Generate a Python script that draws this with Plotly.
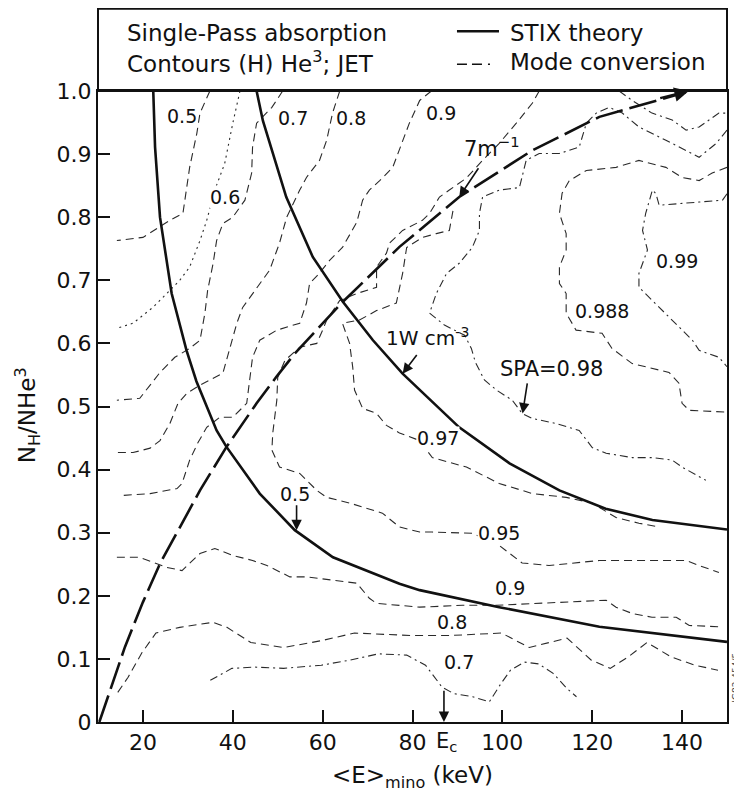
import plotly.graph_objects as go

# ---------------- data ----------------
x_tickvals = [20, 40, 60, 80, 100, 120, 140]
x_ticktext = ["20", "40", "60", "80", "100", "120", "140"]
y_tickvals = [0, 0.1, 0.2, 0.3, 0.4, 0.5, 0.6, 0.7, 0.8, 0.9, 1.0]
y_ticktext = ["0", "0.1", "0.2", "0.3", "0.4", "0.5", "0.6", "0.7", "0.8", "0.9", "1.0"]

# STIX theory (solid)
stix_low_x = [22.3, 22.7, 23.8, 26.4, 29.7, 31.9, 36.4, 38.6, 46.0, 53.8, 62.3, 77.1, 81.6, 99.3, 121.6, 150.0]
stix_low_y = [1.0, 0.911, 0.80, 0.679, 0.589, 0.54, 0.462, 0.436, 0.362, 0.304, 0.261, 0.219, 0.209, 0.182, 0.151, 0.127]
stix_high_x = [45.3, 46.7, 51.9, 57.8, 64.5, 71.2, 77.8, 90.4, 101.6, 112.7, 123.0, 133.4, 150.0]
stix_high_y = [1.0, 0.953, 0.832, 0.737, 0.666, 0.605, 0.552, 0.467, 0.41, 0.367, 0.338, 0.32, 0.305]

# Mode conversion (long dashes)
mode_x = [10.3, 11.9, 16.0, 20.0, 23.8, 32.7, 38.6, 45.3, 49.7, 53.8, 64.5, 77.1, 90.4, 106.7, 121.6, 140.8]
mode_y = [0.0, 0.034, 0.119, 0.19, 0.251, 0.367, 0.436, 0.505, 0.547, 0.584, 0.666, 0.753, 0.832, 0.906, 0.959, 0.998]

# Single-pass absorption contours
c050_x = [34.9, 32.7, 32.0, 30.4, 28.9, 26.0, 20.0, 14.2]
c050_y = [1.0, 0.965, 0.933, 0.879, 0.806, 0.795, 0.768, 0.763]

c060_x = [41.6, 40.0, 38.2, 36.0, 34.2, 32.7, 30.4, 28.2, 25.3, 22.2, 17.8, 14.2]
c060_y = [1.0, 0.949, 0.885, 0.843, 0.795, 0.763, 0.721, 0.700, 0.679, 0.657, 0.632, 0.624]

c070_x = [51.1, 48.7, 45.3, 44.4, 44.2, 42.7, 40.0, 37.8, 36.4, 35.6, 34.4, 33.8, 32.7, 30.4, 27.1, 23.8, 21.6, 19.3, 14.2]
c070_y = [1.0, 0.974, 0.949, 0.911, 0.870, 0.827, 0.800, 0.790, 0.763, 0.726, 0.684, 0.648, 0.605, 0.592, 0.578, 0.554, 0.534, 0.513, 0.510]

c080_x = [63.8, 62.2, 60.9, 59.3, 56.4, 54.9, 52.0, 50.4, 48.2, 46.0, 42.2, 40.9, 39.3, 37.8, 34.9, 32.7, 29.8, 27.8, 26.0, 23.8, 21.6, 17.8, 14.2]
c080_y = [1.0, 0.965, 0.922, 0.890, 0.863, 0.843, 0.800, 0.759, 0.716, 0.695, 0.657, 0.632, 0.589, 0.553, 0.542, 0.534, 0.521, 0.505, 0.473, 0.446, 0.434, 0.427, 0.427]

c090_x = [84.2, 81.6, 79.3, 77.1, 75.6, 72.7, 70.4, 68.9, 67.6, 64.4, 61.6, 58.9, 57.1, 56.4, 54.9, 49.8, 46.0, 44.4, 43.8, 43.1, 40.0, 37.1, 34.2, 32.2, 30.4, 28.7, 27.6, 21.6, 15.3]
c090_y = [1.0, 0.985, 0.949, 0.906, 0.879, 0.858, 0.843, 0.827, 0.792, 0.752, 0.732, 0.708, 0.695, 0.664, 0.632, 0.621, 0.605, 0.578, 0.542, 0.505, 0.483, 0.483, 0.467, 0.442, 0.415, 0.378, 0.370, 0.362, 0.359]

c095_x = [108.2, 106.7, 103.1, 99.3, 95.6, 92.0, 88.2, 86.0, 83.8, 82.2, 77.8, 74.9, 74.2, 72.0, 72.0, 67.6, 63.8, 60.9, 60.0, 58.7, 54.9, 51.6, 50.0, 49.8, 48.9, 48.7, 50.4, 54.9, 58.7, 60.9, 66.0, 73.3, 77.1, 81.6, 84.4, 93.3, 98.7, 104.4, 110.4, 121.6, 128.9, 140.9, 143.8, 148.2]
c095_y = [1.0, 0.981, 0.949, 0.917, 0.890, 0.862, 0.843, 0.832, 0.806, 0.795, 0.779, 0.759, 0.743, 0.721, 0.689, 0.679, 0.668, 0.637, 0.621, 0.600, 0.594, 0.573, 0.546, 0.510, 0.458, 0.431, 0.404, 0.394, 0.367, 0.356, 0.347, 0.331, 0.309, 0.301, 0.301, 0.299, 0.283, 0.252, 0.248, 0.256, 0.256, 0.256, 0.248, 0.237]

c097_x = [89.0, 88.2, 85.3, 82.2, 78.7, 77.8, 76.4, 72.0, 68.2, 64.4, 66.0, 66.7, 67.1, 68.9, 72.0, 74.2, 77.1, 81.6, 84.4, 92.0, 99.3, 106.7, 114.2, 120.0, 125.3, 130.4, 134.9]
c097_y = [0.81, 0.779, 0.774, 0.768, 0.752, 0.711, 0.664, 0.652, 0.637, 0.632, 0.600, 0.562, 0.526, 0.497, 0.489, 0.470, 0.458, 0.446, 0.419, 0.404, 0.378, 0.362, 0.356, 0.347, 0.324, 0.315, 0.309]

c098_x = [150.0, 147.6, 143.8, 140.9, 136.4, 130.4, 126.7, 123.8, 120.9, 118.7, 117.1, 112.7, 108.2, 105.3, 103.8, 99.3, 95.6, 94.9, 94.9, 93.3, 90.4, 87.6, 85.3, 83.8, 87.1, 91.6, 93.1, 94.0, 96.0, 98.7, 102.2, 104.4, 106.7, 112.0, 117.1, 120.0, 123.1, 128.9, 133.3, 137.8, 140.0, 145.3]
c098_y = [0.938, 0.917, 0.895, 0.906, 0.922, 0.943, 0.965, 0.974, 0.965, 0.949, 0.911, 0.901, 0.901, 0.890, 0.847, 0.843, 0.832, 0.806, 0.779, 0.752, 0.727, 0.711, 0.679, 0.648, 0.629, 0.613, 0.592, 0.570, 0.542, 0.526, 0.510, 0.489, 0.481, 0.473, 0.462, 0.435, 0.426, 0.419, 0.419, 0.415, 0.404, 0.383]

c098_corner_x = [126.0, 128.9, 133.3, 137.8, 140.9, 143.8, 148.2, 150.0]
c098_corner_y = [1.0, 0.985, 0.965, 0.954, 0.938, 0.943, 0.965, 0.965]

c0988_x = [150.0, 146.7, 143.8, 140.0, 136.4, 130.4, 125.3, 118.7, 114.9, 113.3, 112.7, 114.2, 114.2, 112.7, 112.7, 114.2, 114.2, 116.4, 122.2, 124.4, 128.9, 132.7, 137.1, 139.3, 140.0, 141.6, 148.2, 150.0]
c0988_y = [0.879, 0.870, 0.858, 0.863, 0.879, 0.890, 0.879, 0.874, 0.858, 0.838, 0.806, 0.774, 0.748, 0.721, 0.695, 0.679, 0.648, 0.621, 0.616, 0.592, 0.568, 0.561, 0.554, 0.537, 0.505, 0.494, 0.491, 0.491]

c099_x = [150.0, 149.0, 143.8, 140.1, 134.9, 134.2, 133.4, 131.9, 131.2, 132.3, 130.4, 130.4, 133.4, 135.6, 139.3, 142.3, 143.8, 148.2, 150.0]
c099_y = [0.837, 0.827, 0.824, 0.822, 0.819, 0.837, 0.843, 0.806, 0.779, 0.748, 0.711, 0.689, 0.668, 0.652, 0.626, 0.605, 0.589, 0.578, 0.563]

c090_low_x = [14.2, 19.3, 25.3, 28.7, 32.7, 36.0, 40.0, 44.4, 47.6, 52.7, 56.4, 62.2, 67.6, 70.4, 72.0, 81.6, 91.1, 98.7, 106.7, 114.2, 123.1, 125.3, 128.9, 133.3, 138.7, 141.6, 148.2]
c090_low_y = [0.261, 0.261, 0.245, 0.240, 0.267, 0.275, 0.264, 0.256, 0.248, 0.230, 0.230, 0.225, 0.220, 0.196, 0.188, 0.182, 0.185, 0.185, 0.188, 0.190, 0.193, 0.182, 0.172, 0.166, 0.166, 0.153, 0.151]

c080_low_x = [14.4, 16.7, 19.8, 22.9, 28.2, 35.6, 38.7, 44.0, 51.3, 59.8, 67.1, 79.8, 88.2, 99.8, 106.0, 114.4, 119.8, 124.0, 128.0, 132.2, 137.6, 142.9, 148.0]
c080_low_y = [0.047, 0.071, 0.11, 0.141, 0.150, 0.158, 0.150, 0.126, 0.118, 0.129, 0.141, 0.137, 0.137, 0.141, 0.118, 0.133, 0.098, 0.085, 0.103, 0.126, 0.103, 0.090, 0.082]

c070_low_x = [35.0, 39.8, 45.0, 51.3, 59.7, 66.0, 72.4, 78.7, 82.9, 85.0, 86.6, 89.2, 93.4, 97.1, 99.7, 101.8, 104.9, 108.1, 111.3, 114.4, 116.5]
c070_low_y = [0.066, 0.085, 0.087, 0.085, 0.090, 0.098, 0.108, 0.106, 0.090, 0.071, 0.055, 0.045, 0.040, 0.032, 0.061, 0.082, 0.095, 0.092, 0.077, 0.053, 0.040]

# contour labels
label_text = ["0.5", "0.6", "0.7", "0.8", "0.9", "0.99", "0.988", "0.97", "0.95", "0.9", "0.8", "0.7"]
label_x = [28.7, 38.2, 53.3, 66.4, 86.4, 138.9, 122.2, 85.6, 99.3, 101.6, 88.7, 90.4]
label_y = [0.96, 0.832, 0.958, 0.958, 0.965, 0.731, 0.652, 0.45, 0.30, 0.212, 0.158, 0.095]

# labels with arrows: text position, arrow tail, arrow tip
arrow_text = ["0.5", "1W cm<sup>-3</sup>", "7m<sup>−1</sup>", "SPA=0.98"]
arrow_text_x = [53.8, 83.3, 97.6, 110.9]
arrow_text_y = [0.362, 0.61, 0.912, 0.56]
arrow_tail_x = [54.2, 81.2, 94.9, 105.6]
arrow_tail_y = [0.346, 0.584, 0.88, 0.539]
arrow_tip_x = [54.2, 77.8, 90.4, 104.5]
arrow_tip_y = [0.304, 0.552, 0.832, 0.489]

ec_x = 87.0

# ---------------- styles ----------------
INK = "#111111"
THIN = "#2a2a2a"
DASH = "8px,5px"
DASHDOT = "8px,4px,2px,4px"
DOT = "2px,4px"
FONT = "DejaVu Sans"

fig = go.Figure()

def add_line(xs, ys, width, dash, color):
    fig.add_trace(go.Scatter(x=xs, y=ys, mode="lines",
                             line=dict(color=color, width=width, dash=dash),
                             hoverinfo="skip", showlegend=False))

contours = [
    (c050_x, c050_y, DASH), (c060_x, c060_y, DOT), (c070_x, c070_y, DASH),
    (c080_x, c080_y, DASH), (c090_x, c090_y, DASH), (c095_x, c095_y, DASH),
    (c097_x, c097_y, DASH), (c098_x, c098_y, DASHDOT), (c098_corner_x, c098_corner_y, DASHDOT),
    (c0988_x, c0988_y, DASH), (c099_x, c099_y, DASHDOT), (c090_low_x, c090_low_y, DASH),
    (c080_low_x, c080_low_y, DASH), (c070_low_x, c070_low_y, DASHDOT),
]
for cx, cy, d in contours:
    add_line(cx, cy, 1.1, d, THIN)

add_line(stix_low_x, stix_low_y, 2.6, "solid", INK)
add_line(stix_high_x, stix_high_y, 2.6, "solid", INK)
add_line(mode_x, mode_y, 2.6, "28px,7px", INK)

annotations = []
for t, x, y in zip(label_text, label_x, label_y):
    annotations.append(dict(x=x, y=y, xref="x", yref="y", text=t, showarrow=False,
                            font=dict(family=FONT, size=19, color=INK),
                            bgcolor="white", borderpad=0))

sizes = [19, 20, 21, 21]
for t, tx, ty, s in zip(arrow_text, arrow_text_x, arrow_text_y, sizes):
    annotations.append(dict(x=tx, y=ty, xref="x", yref="y", text=t, showarrow=False,
                            font=dict(family=FONT, size=s, color=INK)))
for ax_, ay_, x_, y_ in zip(arrow_tail_x, arrow_tail_y, arrow_tip_x, arrow_tip_y):
    annotations.append(dict(x=x_, y=y_, xref="x", yref="y", ax=ax_, ay=ay_,
                            axref="x", ayref="y", text="", showarrow=True,
                            arrowhead=2, arrowsize=1.3, arrowwidth=1.6, arrowcolor=INK,
                            standoff=0, startstandoff=0))

# arrow head at end of mode-conversion curve
annotations.append(dict(x=mode_x[-1] + 0.7, y=1.0, xref="x", yref="y", ax=mode_x[-1] - 6, ay=0.988,
                        axref="x", ayref="y", text="", showarrow=True, arrowhead=2,
                        arrowsize=1.2, arrowwidth=2.4, arrowcolor=INK, standoff=0))

# E_c arrow and label
annotations.append(dict(x=ec_x, y=0.0, xref="x", yref="y", ax=ec_x, ay=0.052, axref="x", ayref="y",
                        text="", showarrow=True, arrowhead=2, arrowsize=1.3, arrowwidth=1.6,
                        arrowcolor=INK, standoff=0))
annotations.append(dict(x=ec_x + 0.6, y=0, xref="x", yref="paper", yanchor="top", yshift=-5,
                        text="E<sub>c</sub>", showarrow=False,
                        font=dict(family=FONT, size=21, color=INK)))

# axis titles
annotations.append(dict(x=0.5, y=-0.0872, xref="paper", yref="paper", yanchor="middle",
                        xanchor="center",
                        text="&lt;E&gt;<sub>mino</sub> (keV)", showarrow=False,
                        font=dict(family=FONT, size=23, color=INK)))
annotations.append(dict(x=-0.113, y=0.486, xref="paper", yref="paper", textangle=-90,
                        xanchor="center", yanchor="middle",
                        text="N<sub>H</sub>/NHe<sup>3</sup>", showarrow=False,
                        font=dict(family=FONT, size=23, color=INK)))

# legend texts
annotations += [
    dict(x=0.0429, y=1.0914, xref="paper", yref="paper", xanchor="left", yanchor="middle",
         text="Single-Pass absorption", showarrow=False, font=dict(family=FONT, size=23, color=INK)),
    dict(x=0.0429, y=1.0455, xref="paper", yref="paper", xanchor="left", yanchor="middle",
         text="Contours (H) He<sup>3</sup>; JET", showarrow=False, font=dict(family=FONT, size=23, color=INK)),
    dict(x=0.6518, y=1.0914, xref="paper", yref="paper", xanchor="left", yanchor="middle",
         text="STIX theory", showarrow=False, font=dict(family=FONT, size=23, color=INK)),
    dict(x=0.6518, y=1.0455, xref="paper", yref="paper", xanchor="left", yanchor="middle",
         text="Mode conversion", showarrow=False, font=dict(family=FONT, size=23, color=INK)),
    dict(x=1.014, y=0.07, xref="paper", yref="paper", textangle=-90,
         xanchor="center", yanchor="middle",
         text="JG82.454/5", showarrow=False, font=dict(family=FONT, size=9, color="#444")),
]

shapes = [
    dict(type="rect", xref="paper", yref="paper", x0=0, x1=1, y0=1, y1=1.1304,
         line=dict(color=INK, width=2)),
    dict(type="line", xref="paper", yref="paper", x0=0.5707, x1=0.6375, y0=1.0946, y1=1.0946,
         line=dict(color=INK, width=2.4)),
    dict(type="line", xref="paper", yref="paper", x0=0.5707, x1=0.6375, y0=1.0423, y1=1.0423,
         line=dict(color=INK, width=1.4, dash="10px,5px,10px,6px,2px,10px")),
]

# page body adds an 8px offset; size the figure so the plot area lands where the reference has it
fig.update_layout(
    width=734, height=783,
    margin=dict(l=90, r=15, t=83, b=69),
    paper_bgcolor="white", plot_bgcolor="white",
    annotations=annotations, shapes=shapes,
    font=dict(family=FONT, color=INK),
    xaxis=dict(range=[10, 150], tickvals=x_tickvals, ticktext=x_ticktext,
               ticks="inside", ticklen=12, tickwidth=1.5, tickcolor=INK,
               showline=True, linewidth=2, linecolor=INK, mirror=True,
               showgrid=False, zeroline=False,
               tickfont=dict(family=FONT, size=22, color=INK)),
    yaxis=dict(range=[0, 1.0], tickvals=y_tickvals, ticktext=y_ticktext,
               ticks="inside", ticklen=12, tickwidth=1.5, tickcolor=INK,
               showline=True, linewidth=2, linecolor=INK, mirror=True,
               showgrid=False, zeroline=False,
               tickfont=dict(family=FONT, size=22, color=INK)),
)

fig.write_html("out.html")
